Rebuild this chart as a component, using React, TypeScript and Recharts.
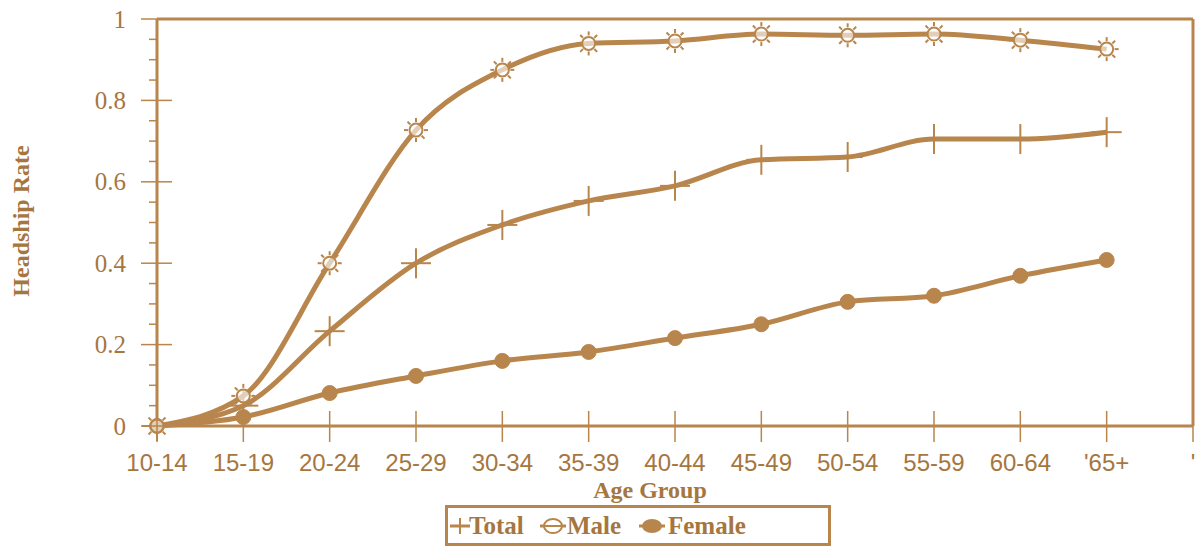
import React from 'react';
import { LineChart, Line, XAxis, YAxis, ReferenceLine } from 'recharts';

const ageGroups = ['10-14', '15-19', '20-24', '25-29', '30-34', '35-39', '40-44', '45-49', '50-54', '55-59', '60-64', "'65+", "'"];
const totalRate = [0, 0.05, 0.233, 0.4, 0.494, 0.553, 0.59, 0.654, 0.661, 0.705, 0.705, 0.722, null];
const maleRate = [0, 0.074, 0.4, 0.727, 0.875, 0.94, 0.946, 0.963, 0.96, 0.963, 0.948, 0.926, null];
const femaleRate = [0, 0.022, 0.081, 0.123, 0.16, 0.182, 0.216, 0.25, 0.305, 0.32, 0.369, 0.408, null];
const yTicks = [0, 0.05, 0.1, 0.15, 0.2, 0.25, 0.3, 0.35, 0.4, 0.45, 0.5, 0.55, 0.6, 0.65, 0.7, 0.75, 0.8, 0.85, 0.9, 0.95, 1];

const data = ageGroups.map((age, i) => ({
  age,
  total: totalRate[i],
  male: maleRate[i],
  female: femaleRate[i],
}));

const LINE = '#b8864d';
const TEXT = '#a6763f';
const SERIF = '"Liberation Serif", "Times New Roman", serif';
const SANS = '"Liberation Sans", Arial, sans-serif';

const YTick = (props: any) => {
  const { x, y, payload } = props;
  const v = payload.value;
  const major = Math.abs(v * 5 - Math.round(v * 5)) < 1e-6;
  if (!major) {
    return <line x1={x - 8} x2={x} y1={y} y2={y} stroke={LINE} strokeWidth={1.5} />;
  }
  const label = v === 0 ? '0' : v === 1 ? '1' : v.toFixed(1);
  return (
    <g>
      <line x1={x - 16} x2={x + 15} y1={y} y2={y} stroke={LINE} strokeWidth={1.5} />
      <text x={x - 31} y={y} textAnchor="end" dominantBaseline="central" fill={TEXT} fontFamily={SERIF} fontSize={25}>
        {label}
      </text>
    </g>
  );
};

const XTick = (props: any) => {
  const { x, y, payload } = props;
  return (
    <g>
      <line x1={x} x2={x} y1={y - 15} y2={y + 16} stroke={LINE} strokeWidth={1.5} />
      <text x={x} y={y + 36} textAnchor="middle" dominantBaseline="central" fill={TEXT} fontFamily={SANS} fontSize={24}>
        {payload.value}
      </text>
    </g>
  );
};

const CrossDot = (props: any) => {
  const { cx, cy, index } = props;
  if (cx == null || cy == null || props.value == null) return <g key={`t${index}`} />;
  return (
    <g key={`t${index}`}>
      <line x1={cx} x2={cx} y1={cy - 15} y2={cy + 15} stroke={LINE} strokeWidth={2} />
      <line x1={cx - 15} x2={cx + 15} y1={cy} y2={cy} stroke={LINE} strokeWidth={2} />
    </g>
  );
};

const SunDot = (props: any) => {
  const { cx, cy, index } = props;
  if (cx == null || cy == null || props.value == null) return <g key={`m${index}`} />;
  const rays = [0, 45, 90, 135, 180, 225, 270, 315];
  return (
    <g key={`m${index}`}>
      <circle cx={cx} cy={cy} r={6.5} fill="#fff" fillOpacity={0.6} stroke={LINE} strokeWidth={2} />
      {rays.map((a) => {
        const r = (a * Math.PI) / 180;
        return (
          <line
            key={a}
            x1={cx + Math.cos(r) * 8}
            y1={cy + Math.sin(r) * 8}
            x2={cx + Math.cos(r) * 12}
            y2={cy + Math.sin(r) * 12}
            stroke={LINE}
            strokeWidth={2}
          />
        );
      })}
    </g>
  );
};

const CircleDot = (props: any) => {
  const { cx, cy, index } = props;
  if (cx == null || cy == null || props.value == null) return <g key={`f${index}`} />;
  return <circle key={`f${index}`} cx={cx} cy={cy} r={7.5} fill={LINE} stroke={LINE} strokeWidth={1} />;
};

const YLabel = () => (
  <text
    x={21}
    y={221}
    transform="rotate(-90 21 221)"
    textAnchor="middle"
    dominantBaseline="central"
    fill={TEXT}
    fontFamily={SERIF}
    fontWeight="bold"
    fontSize={24}
  >
    Headship Rate
  </text>
);

const XLabel = () => (
  <text
    x={650}
    y={490}
    textAnchor="middle"
    dominantBaseline="central"
    fill={TEXT}
    fontFamily={SERIF}
    fontWeight="bold"
    fontSize={24}
  >
    Age Group
  </text>
);

const legendText: React.CSSProperties = {
  position: 'absolute',
  top: 3,
  fontFamily: SERIF,
  fontWeight: 'bold',
  fontSize: 25,
  lineHeight: '30px',
  color: TEXT,
};

export default function App() {
  return (
    <div style={{ position: 'relative', width: 1197, height: 548, background: '#fff' }}>
      <style>{`body{margin:0}`}</style>
      <LineChart width={1197} height={548} data={data} margin={{ top: 19, right: 4, left: 57, bottom: 0 }}>
        <XAxis
          dataKey="age"
          height={122}
          interval={0}
          tickSize={0}
          tickMargin={0}
          tick={<XTick />}
          axisLine={{ stroke: LINE, strokeWidth: 3 }}
          tickLine={false}
          label={<XLabel />}
        />
        <YAxis
          width={100}
          domain={[0, 1]}
          ticks={yTicks}
          interval={0}
          tickSize={0}
          tickMargin={0}
          tick={<YTick />}
          axisLine={{ stroke: LINE, strokeWidth: 3 }}
          tickLine={false}
          label={<YLabel />}
        />
        <ReferenceLine y={1} stroke={LINE} strokeWidth={3} ifOverflow="visible" />
        <ReferenceLine x="'" stroke={LINE} strokeWidth={3} ifOverflow="visible" />
        <Line type="monotone" dataKey="female" stroke={LINE} strokeWidth={5} dot={CircleDot} isAnimationActive={false} />
        <Line type="monotone" dataKey="total" stroke={LINE} strokeWidth={5} dot={CrossDot} isAnimationActive={false} />
        <Line type="monotone" dataKey="male" stroke={LINE} strokeWidth={5} dot={SunDot} isAnimationActive={false} />
      </LineChart>
      <div
        style={{
          position: 'absolute',
          left: 445,
          top: 505,
          width: 386,
          height: 41,
          boxSizing: 'border-box',
          border: `3px solid ${LINE}`,
        }}
      >
        <svg width={20} height={20} style={{ position: 'absolute', left: 2, top: 8 }}>
          <line x1={0} x2={20} y1={10} y2={10} stroke={LINE} strokeWidth={3} />
          <line x1={10} x2={10} y1={2} y2={18} stroke={LINE} strokeWidth={2} />
        </svg>
        <span style={{ ...legendText, left: 21 }}>Total</span>
        <svg width={26} height={20} style={{ position: 'absolute', left: 92, top: 8 }}>
          <line x1={0} x2={26} y1={10} y2={10} stroke={LINE} strokeWidth={3} />
          <ellipse cx={13} cy={10} rx={9} ry={7} fill="#fff" stroke={LINE} strokeWidth={2} />
          <line x1={5} x2={21} y1={10} y2={10} stroke={LINE} strokeWidth={2} />
        </svg>
        <span style={{ ...legendText, left: 119 }}>Male</span>
        <svg width={26} height={20} style={{ position: 'absolute', left: 191, top: 8 }}>
          <line x1={0} x2={26} y1={10} y2={10} stroke={LINE} strokeWidth={3} />
          <ellipse cx={13} cy={10} rx={10} ry={7} fill={LINE} />
        </svg>
        <span style={{ ...legendText, left: 220 }}>Female</span>
      </div>
    </div>
  );
}
